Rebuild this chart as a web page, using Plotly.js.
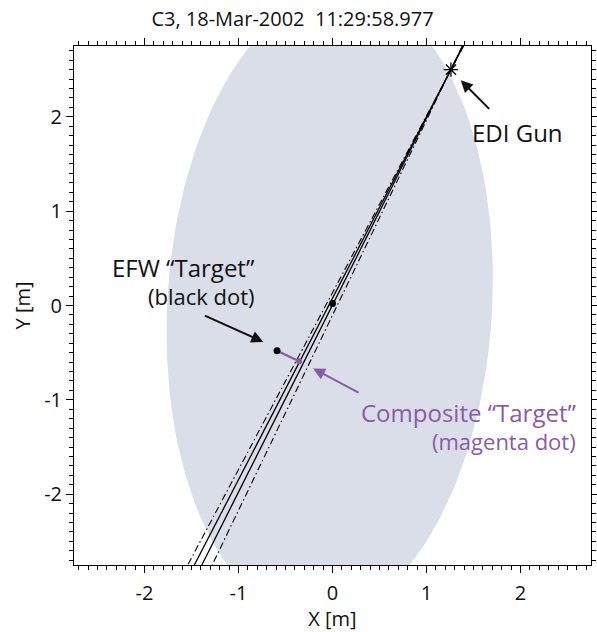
<!DOCTYPE html>
<html><head><meta charset="utf-8">
<script src="https://cdn.plot.ly/plotly-3.0.1.min.js"></script>
<style>html,body{margin:0;padding:0;background:#fff}#chart{width:597px;height:632px}</style>
</head><body><div id="chart"></div>
<script>
// ---- data ----
const titleText = 'C3, 18-Mar-2002  11:29:58.977';
const xTickVals = [-2, -1, 0, 1, 2];
const yTickVals = [-2, -1, 0, 1, 2];
const beamStyles = ['dashdot', 'solid', 'solid', 'dashdot'];
const beamTopX = [1.395, 1.39, 1.385, 1.38];
const beamTopY = [2.75, 2.75, 2.75, 2.75];
const beamBotX = [-1.54, -1.47, -1.39, -1.28];
const beamBotY = [-2.75, -2.75, -2.75, -2.75];
const gunX = [1.26], gunY = [2.50];
const centerDotX = [0.0], centerDotY = [0.02];
const efwX = [-0.59], efwY = [-0.48];
const compX = [-0.355], compY = [-0.59];
const ellipseCenter = [-0.03, 0.0];
const ellipseSemiAxes = [1.73, 3.32];
const ellipseShear = 0.044;

// ---- build ----
const FONT = '"Open Sans", "DejaVu Sans", sans-serif';
const PURPLE = '#8c5aa9';
const traces = [];

// ellipse outline from its parameters
const ex = [], ey = [];
for (let i = 0; i <= 180; i++) {
  const t = 2 * Math.PI * i / 180;
  ex.push(ellipseCenter[0] + ellipseSemiAxes[0] * Math.cos(t) + ellipseShear * ellipseSemiAxes[1] * Math.sin(t));
  ey.push(ellipseCenter[1] + ellipseSemiAxes[1] * Math.sin(t));
}
traces.push({x: ex, y: ey, mode: 'lines', fill: 'toself', fillcolor: '#d9dee9',
  line: {width: 0, color: '#d9dee9'}, hoverinfo: 'skip', showlegend: false});

for (let i = 0; i < beamTopX.length; i++) {
  const solid = beamStyles[i] === 'solid';
  traces.push({x: [beamTopX[i], beamBotX[i]], y: [beamTopY[i], beamBotY[i]], mode: 'lines',
    line: {color: '#000', width: solid ? 1.3 : 1.1, dash: solid ? 'solid' : '7px,3px,1.5px,3px'},
    showlegend: false});
}
// magenta connector
traces.push({x: [efwX[0], compX[0]], y: [efwY[0], compY[0]], mode: 'lines',
  line: {color: PURPLE, width: 2.2}, showlegend: false});
traces.push({x: centerDotX.concat(efwX), y: centerDotY.concat(efwY), mode: 'markers',
  marker: {color: '#000', size: 7}, showlegend: false});
traces.push({x: compX, y: compY, mode: 'markers', marker: {color: PURPLE, size: 6}, showlegend: false});
traces.push({x: gunX, y: gunY, mode: 'markers',
  marker: {symbol: 'asterisk-open', size: 12, color: '#000', line: {color: '#000', width: 1.3}}, showlegend: false});

const axisCommon = {
  range: [-2.75, 2.75], showgrid: false, zeroline: false, showline: true, linecolor: '#000', linewidth: 1,
  mirror: 'allticks', ticks: 'outside', ticklen: 7, tickwidth: 1, tickcolor: '#000',
  tickfont: {family: FONT, size: 20, color: '#111'},
  minor: {dtick: 0.1, ticks: 'outside', ticklen: 4, tickwidth: 1, tickcolor: '#000', showgrid: false}
};

const layout = {
  width: 597, height: 632,
  margin: {l: 74, r: 6, t: 46, b: 67},
  paper_bgcolor: '#fff', plot_bgcolor: '#fff',
  title: {text: titleText, x: 0.49, xref: 'container', xanchor: 'center', y: 0.97, yref: 'container', yanchor: 'middle',
    font: {family: FONT, size: 20, color: '#111'}},
  xaxis: Object.assign({}, axisCommon, {tickvals: xTickVals, ticktext: xTickVals.map(String), ticklabelstandoff: 3,
    title: {text: 'X [m]', font: {family: FONT, size: 20, color: '#111'}, standoff: 2}}),
  yaxis: Object.assign({}, axisCommon, {tickvals: yTickVals, ticktext: yTickVals.map(String),
    title: {text: 'Y [m]', font: {family: FONT, size: 20, color: '#111'}, standoff: 8}}),
  annotations: [
    {x: 1.968, y: 1.836, text: 'EDI Gun', showarrow: false, xanchor: 'center', yanchor: 'middle',
      font: {family: FONT, size: 24, color: '#111'}},
    {x: 1.364, y: 2.386, text: '', showarrow: true, ax: 30, ay: 30, arrowhead: 2, arrowsize: 1.2, arrowwidth: 2, arrowcolor: '#111'},
    {x: -0.80, y: 0.406, text: 'EFW \u201cTarget\u201d', showarrow: false, xanchor: 'right', yanchor: 'middle',
      font: {family: FONT, size: 24, color: '#111'}},
    {x: -0.80, y: 0.099, text: '(black dot)', showarrow: false, xanchor: 'right', yanchor: 'middle',
      font: {family: FONT, size: 22, color: '#111'}},
    {x: -0.736, y: -0.386, text: '', showarrow: true, ax: -60, ay: -27, arrowhead: 2, arrowsize: 1.2, arrowwidth: 2, arrowcolor: '#111'},
    {x: 2.61, y: -1.13, text: 'Composite \u201cTarget\u201d', showarrow: false, xanchor: 'right', yanchor: 'middle',
      font: {family: FONT, size: 24, color: PURPLE}},
    {x: 2.61, y: -1.437, text: '(magenta dot)', showarrow: false, xanchor: 'right', yanchor: 'middle',
      font: {family: FONT, size: 22, color: PURPLE}},
    {x: -0.207, y: -0.667, text: '', showarrow: true, ax: 47, ay: 25, arrowhead: 2, arrowsize: 1.2, arrowwidth: 2, arrowcolor: PURPLE}
  ]
};

Plotly.newPlot('chart', traces, layout, {staticPlot: true, displayModeBar: false});
</script>
</body></html>
